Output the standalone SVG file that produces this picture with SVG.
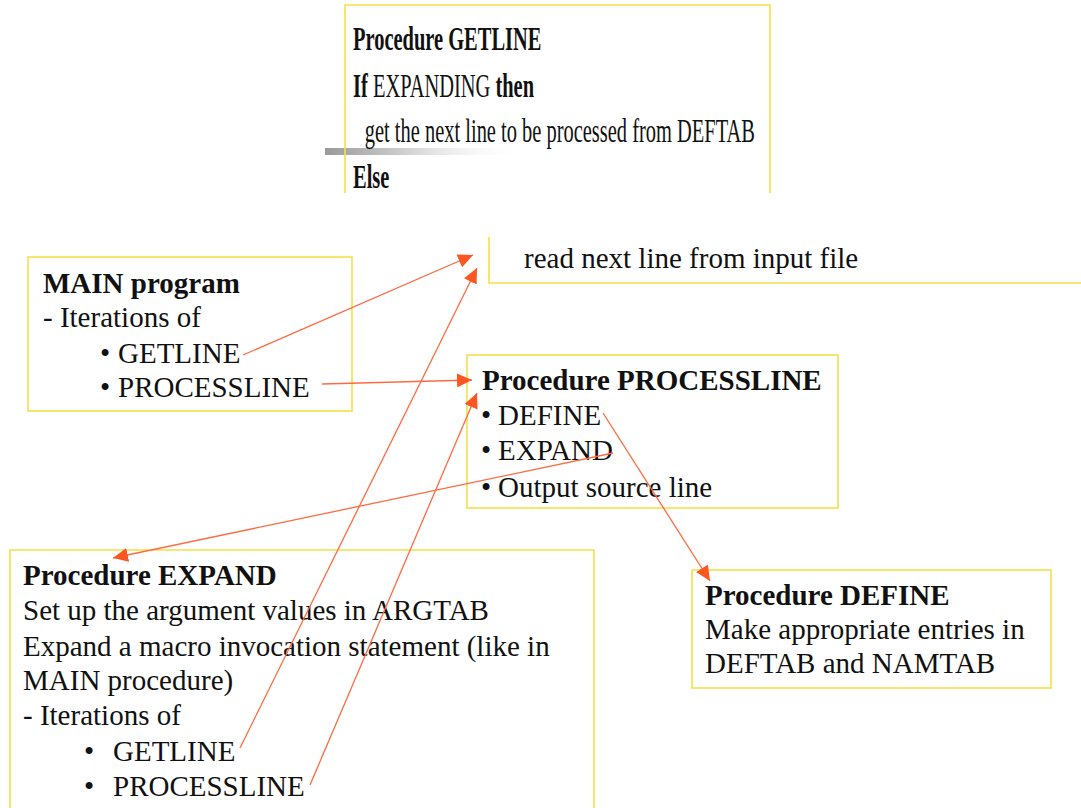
<svg xmlns="http://www.w3.org/2000/svg" width="1081" height="808" viewBox="0 0 1081 808">
<style>
.box{fill:none;stroke:#F5E04A;stroke-width:1.6}
.t{font-family:"Liberation Serif","Times New Roman",serif;font-size:29px;fill:#111}
.b{font-weight:bold}
.c{font-family:"Liberation Serif","Times New Roman",serif;font-size:33px;fill:#111}
.conn line{stroke:#FF6A40;stroke-width:1.3}
</style>
<defs>
<marker id="ah" markerUnits="userSpaceOnUse" markerWidth="16" markerHeight="14" refX="15" refY="7" orient="auto">
<path d="M0,0 L15,7 L0,14 z" fill="#FF5520"/>
</marker>
<linearGradient id="gbar" x1="0" y1="0" x2="1" y2="0">
<stop offset="0" stop-color="#9a9a9a"/>
<stop offset="0.35" stop-color="#c8c8c8"/>
<stop offset="1" stop-color="#ffffff" stop-opacity="0"/>
</linearGradient>
</defs>
<rect width="1081" height="808" fill="#fff"/>

<g id="getline">
<rect x="325" y="148" width="200" height="7" fill="url(#gbar)"/>
<path class="box" d="M345,193 V5 H770 V193" stroke-width="2"/>
<g transform="translate(353,0) scale(0.62,1)">
<text class="c b" x="0" y="50">Procedure GETLINE</text>
<text class="c" x="0" y="97"><tspan class="b">If</tspan> EXPANDING <tspan class="b">then</tspan></text>
<text class="c" x="19" y="142">get the next line to be processed from DEFTAB</text>
<text class="c b" x="0" y="188">Else</text>
</g>
</g>

<g id="readline">
<path class="box" d="M489,237 V283 H1081" stroke-width="2"/>
<text class="t" x="524" y="268">read next line from input file</text>
</g>

<g id="main">
<rect class="box" x="28" y="257" width="324" height="154"/>
<text class="t b" x="43" y="293">MAIN program</text>
<text class="t" x="43" y="327">- Iterations of</text>
<text class="t" x="100" y="363">•</text>
<text class="t" x="118" y="363">GETLINE</text>
<text class="t" x="100" y="397">•</text>
<text class="t" x="118" y="397">PROCESSLINE</text>
</g>

<g id="processline">
<rect class="box" x="467" y="355" width="371" height="153"/>
<text class="t b" x="482" y="390">Procedure PROCESSLINE</text>
<text class="t" x="481" y="425">•</text>
<text class="t" x="498" y="425">DEFINE</text>
<text class="t" x="481" y="460">•</text>
<text class="t" x="498" y="460">EXPAND</text>
<text class="t" x="481" y="497">•</text>
<text class="t" x="498" y="497">Output source line</text>
</g>

<g id="expand">
<path class="box" d="M10,808 V550 H594 V808"/>
<text class="t b" x="23" y="585">Procedure EXPAND</text>
<text class="t" x="23" y="620">Set up the argument values in ARGTAB</text>
<text class="t" x="23" y="656">Expand a macro invocation statement (like in</text>
<text class="t" x="23" y="690">MAIN procedure)</text>
<text class="t" x="23" y="725">- Iterations of</text>
<text class="t" x="84" y="761">•</text>
<text class="t" x="113" y="761">GETLINE</text>
<text class="t" x="84" y="796">•</text>
<text class="t" x="113" y="796">PROCESSLINE</text>
</g>

<g id="define">
<rect class="box" x="692" y="570" width="359" height="118"/>
<text class="t b" x="705" y="605">Procedure DEFINE</text>
<text class="t" x="705" y="639">Make appropriate entries in</text>
<text class="t" x="705" y="673">DEFTAB and NAMTAB</text>
</g>

<g id="connectors" class="conn">
<line x1="243" y1="355" x2="473" y2="255" marker-end="url(#ah)"/>
<line x1="322" y1="384" x2="472" y2="380" marker-end="url(#ah)"/>
<line x1="240" y1="748" x2="477" y2="268" marker-end="url(#ah)"/>
<line x1="310" y1="785" x2="477" y2="393" marker-end="url(#ah)"/>
<line x1="613" y1="453" x2="113" y2="558" marker-end="url(#ah)"/>
<line x1="603" y1="413" x2="710" y2="581" marker-end="url(#ah)"/>
</g>
</svg>
